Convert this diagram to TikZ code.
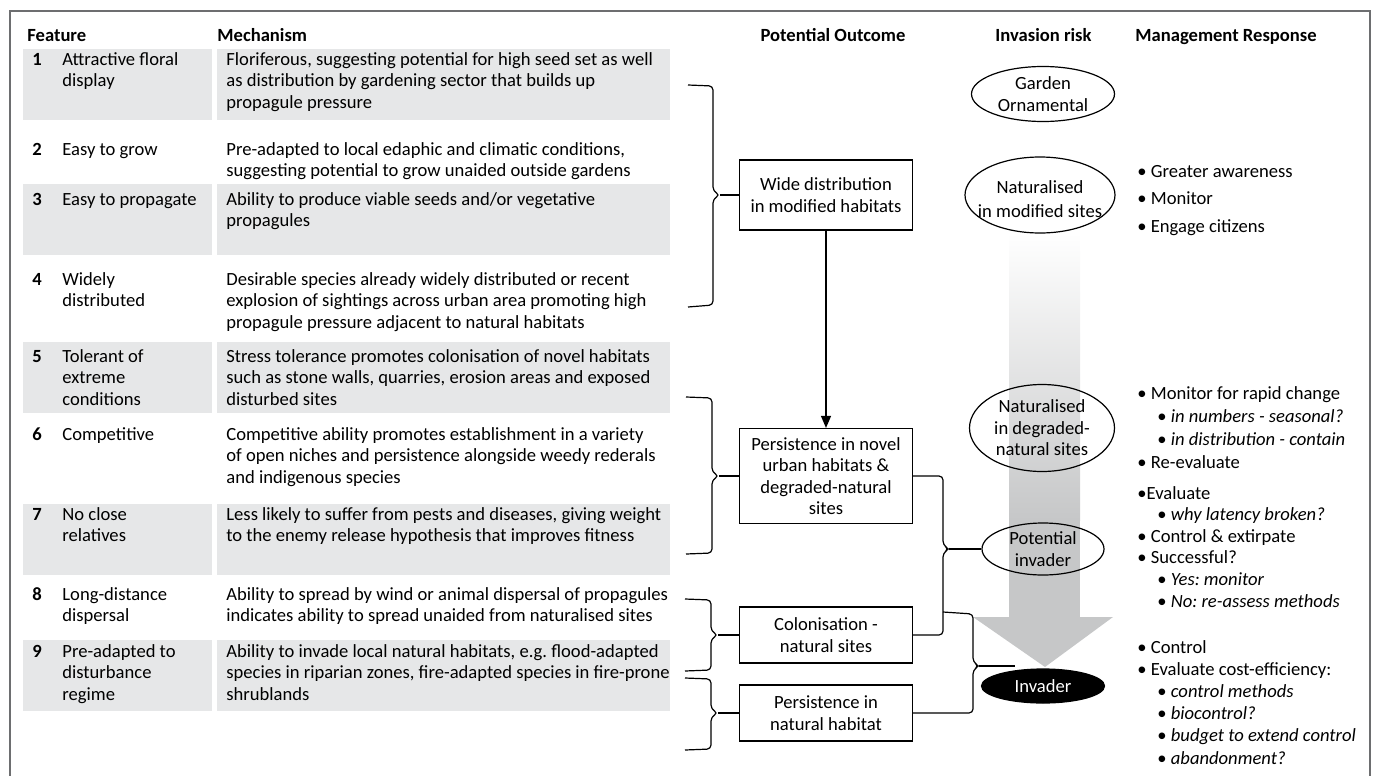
\documentclass[tikz,border=0pt]{standalone}
\usepackage{fontspec}
\setmainfont{Carlito}
\usetikzlibrary{shapes.geometric,arrows.meta}
\definecolor{rowgray}{HTML}{E6E7E8}
\definecolor{arrowgray}{HTML}{C6C7C8}
\definecolor{framegray}{HTML}{6D6E70}
\frenchspacing

\begin{document}
\begin{tikzpicture}[x=0.5pt,y=-0.5pt,
  every node/.style={font=\fontsize{9.3}{10.75}\selectfont},
  head/.style={anchor=base west, inner sep=0pt, font=\fontsize{9.3}{10.75}\selectfont\bfseries},
  num/.style={anchor=base, inner sep=0pt, font=\fontsize{9.3}{10.75}\selectfont\bfseries},
  feat/.style={anchor=base west, inner sep=0pt, align=left},
  mech/.style={anchor=base west, inner sep=0pt, align=left},
  outbox/.style={draw, line width=0.6pt, align=center, minimum width=86.5pt, inner sep=0pt},
  risk/.style={draw, ellipse, line width=0.6pt, inner sep=0pt},
  rlab/.style={align=center},
  brace/.style={line width=0.6pt, rounded corners=2pt},
  mgmt/.style={anchor=base west, inner sep=0pt, align=left}]
\useasboundingbox (0,0) rectangle (1376,776);
\draw[framegray, line width=1pt] (10,11) rectangle (1370,790);

% shaded rows
\fill[rowgray] (23,49) rectangle (212,120);  \fill[rowgray] (217,49) rectangle (670,120);
\fill[rowgray] (23,184) rectangle (212,255); \fill[rowgray] (217,184) rectangle (670,255);
\fill[rowgray] (23,342) rectangle (212,413); \fill[rowgray] (217,342) rectangle (670,413);
\fill[rowgray] (23,504) rectangle (212,575); \fill[rowgray] (217,504) rectangle (670,575);
\fill[rowgray] (23,640) rectangle (212,711); \fill[rowgray] (217,640) rectangle (670,711);

% column headings
\node[head] (hfeat) at (27,41) {Feature};
\node[head] (hmech) at (217,41) {Mechanism};
\node[head, anchor=base] (hout) at (833,41) {Potential Outcome};
\node[head] (hrisk) at (995,41) {Invasion risk};
\node[head] (hman) at (1135,41) {Management Response};

% features and mechanisms (base = last line)
\node[num] (n1) at (37,65) {1};
\node[feat] (f1) at (62,86.5) {Attractive floral\\display};
\node[mech] (m1) at (226,108) {Floriferous, suggesting potential for high seed set as well\\as distribution by gardening sector that builds up\\propagule pressure};
\node[num] (n2) at (37,155) {2};
\node[feat] (f2) at (62,155) {Easy to grow};
\node[mech] (m2) at (226,176.5) {Pre-adapted to local edaphic and climatic conditions,\\suggesting potential to grow unaided outside gardens};
\node[num] (n3) at (37,205) {3};
\node[feat] (f3) at (62,205) {Easy to propagate};
\node[mech] (m3) at (226,226.5) {Ability to produce viable seeds and/or vegetative\\propagules};
\node[num] (n4) at (37,285) {4};
\node[feat] (f4) at (62,306.5) {Widely\\distributed};
\node[mech] (m4) at (226,328) {Desirable species already widely distributed or recent\\explosion of sightings across urban area promoting high\\propagule pressure adjacent to natural habitats};
\node[num] (n5) at (37,362) {5};
\node[feat] (f5) at (62,405) {Tolerant of\\extreme\\conditions};
\node[mech] (m5) at (226,405) {Stress tolerance promotes colonisation of novel habitats\\such as stone walls, quarries, erosion areas and exposed\\disturbed sites};
\node[num] (n6) at (37,440) {6};
\node[feat] (f6) at (62,440) {Competitive};
\node[mech] (m6) at (226,483) {Competitive ability promotes establishment in a variety\\of open niches and persistence alongside weedy rederals\\and indigenous species};
\node[num] (n7) at (37,520) {7};
\node[feat] (f7) at (62,541.5) {No close\\relatives};
\node[mech] (m7) at (226,541.5) {Less likely to suffer from pests and diseases, giving weight\\to the enemy release hypothesis that improves fitness};
\node[num] (n8) at (37,600) {8};
\node[feat] (f8) at (62,621.5) {Long-distance\\dispersal};
\node[mech] (m8) at (226,621.5) {Ability to spread by wind or animal dispersal of propagules\\indicates ability to spread unaided from naturalised sites};
\node[num] (n9) at (37,657) {9};
\node[feat] (f9) at (62,700) {Pre-adapted to\\disturbance\\regime};
\node[mech] (m9) at (226,700) {Ability to invade local natural habitats, e.g. flood-adapted\\species in riparian zones, fire-adapted species in fire-prone\\shrublands};

% outcomes
\node[outbox, minimum height=35pt] (wide) at (826,195) {Wide distribution\\in modified habitats};
\node[outbox, minimum height=47.5pt] (pers) at (826,476) {Persistence in novel\\urban habitats \&\\degraded-natural\\sites};
\node[outbox, minimum height=28pt] (colo) at (826,635) {Colonisation -\\natural sites};
\node[outbox, minimum height=28pt] (natp) at (826,713) {Persistence in\\natural habitat};
\draw[line width=0.6pt, -{Triangle[length=6pt,width=5pt]}] (wide) -- (pers);

% risk arrow
\shade[top color=white, bottom color=arrowgray] (1009,233) rectangle (1080,520);
\fill[arrowgray] (1009,519) rectangle (1080,618);
\fill[arrowgray] (973,617) -- (1113,617) -- (1045,667) -- cycle;

% risk stages
\node[risk, minimum width=71.5pt, minimum height=27.5pt, label={[rlab]center:Garden\\Ornamental}] (gard) at (1043,94) {};
\node[risk, minimum width=75pt, minimum height=38pt, label={[rlab, yshift=-2pt]center:Naturalised\\[1.5pt]in modified sites}] (natm) at (1040,195) {};
\node[risk, minimum width=72.5pt, minimum height=43.5pt, label={[rlab]center:Naturalised\\in degraded-\\natural sites}] (natd) at (1042,428) {};
\node[risk, minimum width=61pt, minimum height=26pt, label={[rlab]center:Potential\\invader}] (pot) at (1043,549) {};
\node[risk, fill=black, minimum width=61.5pt, minimum height=17pt, label={[rlab, text=white]center:Invader}] (inv) at (1043,686) {};

% braces on the left
\coordinate (t1) at (720,195);
\draw[brace] (688,85) -- (713,86) -- (713,191) -- (t1) -- (713,199) -- (713,305) -- (688,307);
\draw[brace] (t1) -- (wide.west);
\coordinate (t2) at (719,476);
\draw[brace] (686,397) -- (712,398) -- (712,472) -- (t2) -- (712,480) -- (712,553) -- (686,554);
\draw[brace] (t2) -- (pers.west);
\coordinate (t3) at (718,635);
\draw[brace] (685,599) -- (711,600) -- (711,631) -- (t3) -- (711,639) -- (711,670) -- (685,671);
\draw[brace] (t3) -- (colo.west);
\coordinate (t4) at (718,713);
\draw[brace] (685,678) -- (711,679) -- (711,709) -- (t4) -- (711,717) -- (711,749) -- (685,750);
\draw[brace] (t4) -- (natp.west);

% braces on the right
\coordinate (t5) at (949,549);
\draw[brace] (pers.east) -- (943,476) -- (943,545) -- (t5) -- (943,553) -- (943,635) -- (colo.east);
\draw[brace] (t5) -- (pot.west);
\coordinate (t6) at (979,666);
\coordinate (invtip) at (1015,666);
\draw[brace] (943,612) -- (973,614) -- (973,662) -- (t6) -- (973,670) -- (973,713) -- (natp.east);
\draw[brace] (t6) -- (invtip);

% management (base = last line)
\node[mgmt, font=\fontsize{9.3}{13.75}\selectfont] (mg1) at (1137,232) {• Greater awareness\\• Monitor\\• Engage citizens};
\node[mgmt, font=\fontsize{9.3}{11.5}\selectfont] (mg2) at (1137,468) {• Monitor for rapid change\\\hspace*{10pt}• \textit{in numbers - seasonal?}\\\hspace*{10pt}• \textit{in distribution - contain}\\• Re-evaluate};
\node[mgmt, font=\fontsize{9.3}{10.8}\selectfont] (mg3) at (1137,607) {•Evaluate\\\hspace*{10pt}• \textit{why latency broken?}\\• Control \& extirpate\\• Successful?\\\hspace*{10pt}• \textit{Yes: monitor}\\\hspace*{10pt}• \textit{No: re-assess methods}};
\node[mgmt, font=\fontsize{9.3}{11.1}\selectfont] (mg4) at (1137,764) {• Control\\• Evaluate cost-efficiency:\\\hspace*{10pt}• \textit{control methods}\\\hspace*{10pt}• \textit{biocontrol?}\\\hspace*{10pt}• \textit{budget to extend control}\\\hspace*{10pt}• \textit{abandonment?}};
\end{tikzpicture}
\end{document}
